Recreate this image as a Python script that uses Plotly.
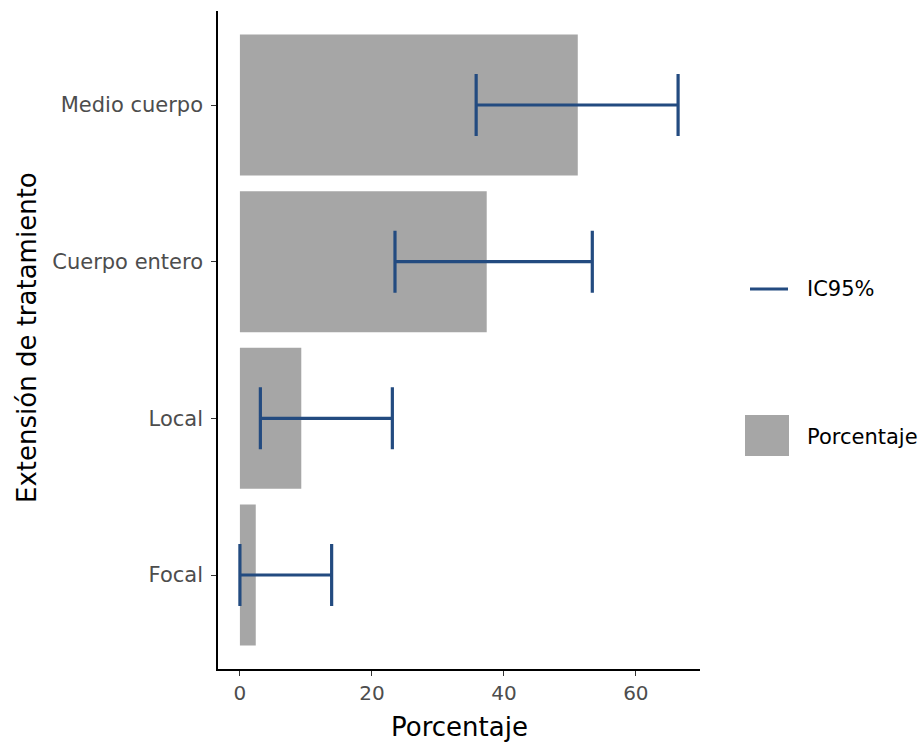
import plotly.graph_objects as go

# Data
categorias = ["Focal", "Local", "Cuerpo entero", "Medio cuerpo"]
porcentaje = [2.4, 9.3, 37.4, 51.2]
ic_inferior = [0.0, 3.1, 23.5, 35.8]
ic_superior = [13.9, 23.1, 53.4, 66.4]

BAR_COLOR = "#A6A6A6"
ERR_COLOR = "#234B80"
FONT = "DejaVu Sans"

err_plus = [hi - v for hi, v in zip(ic_superior, porcentaje)]
err_minus = [v - lo for lo, v in zip(ic_inferior, porcentaje)]

fig = go.Figure()
fig.add_trace(go.Bar(
    y=categorias, x=porcentaje, orientation="h",
    marker=dict(color=BAR_COLOR, line=dict(width=0)),
    error_x=dict(type="data", symmetric=False, array=err_plus, arrayminus=err_minus,
                 color=ERR_COLOR, thickness=3.2, width=31),
    name="Porcentaje", showlegend=False,
))

# Plot-area geometry in pixels
W, H = 924, 746
L, R, T, B = 218, 224, 11, 77
pw, ph = W - L - R, H - T - B

def px(x):
    return (x - L) / pw

def py(y):
    return (H - B - y) / ph

fig.update_layout(
    width=W, height=H,
    margin=dict(l=L, r=R, t=T, b=B),
    plot_bgcolor="white", paper_bgcolor="white",
    bargap=0.1,
    font=dict(family=FONT, color="#4D4D4D", size=20),
    xaxis=dict(range=[-3.32, 69.72], tickvals=[0, 20, 40, 60], showgrid=False, zeroline=False,
               showline=True, linecolor="black", linewidth=1.5,
               ticks="outside", ticklen=5, tickwidth=1, tickcolor="#333333",
               tickfont=dict(size=20, color="#4D4D4D", family=FONT)),
    yaxis=dict(range=[-0.6, 3.6], showgrid=False, zeroline=False,
               showline=True, linecolor="black", linewidth=1.5,
               ticks="outside", ticklen=5, tickwidth=1, tickcolor="#333333",
               ticklabelstandoff=4,
               tickfont=dict(size=21, color="#4D4D4D", family=FONT)),
    showlegend=False,
)

# Axis titles
fig.add_annotation(text="Porcentaje", xref="paper", yref="paper", x=px(459), y=py(727),
                   showarrow=False, font=dict(size=26, color="black", family=FONT),
                   xanchor="center", yanchor="middle")
fig.add_annotation(text="Extensión de tratamiento", xref="paper", yref="paper", x=px(27), y=py(338),
                   showarrow=False, textangle=-90, font=dict(size=26, color="black", family=FONT),
                   xanchor="center", yanchor="middle")

# Legend (manual)
fig.add_shape(type="line", xref="paper", yref="paper", x0=px(750), x1=px(788), y0=py(289), y1=py(289),
              line=dict(color=ERR_COLOR, width=3))
fig.add_annotation(text="IC95%", xref="paper", yref="paper", x=px(805), y=py(289),
                   showarrow=False, xanchor="left", yanchor="middle",
                   font=dict(size=21, color="black", family=FONT))
fig.add_shape(type="rect", xref="paper", yref="paper", x0=px(745), x1=px(789), y0=py(456), y1=py(415),
              fillcolor=BAR_COLOR, line=dict(width=0))
fig.add_annotation(text="Porcentaje", xref="paper", yref="paper", x=px(805), y=py(437),
                   showarrow=False, xanchor="left", yanchor="middle",
                   font=dict(size=21, color="black", family=FONT))

fig.write_html("out.html", config={"displayModeBar": False},
               post_script="document.body.style.margin='0';document.body.style.overflow='hidden';")
